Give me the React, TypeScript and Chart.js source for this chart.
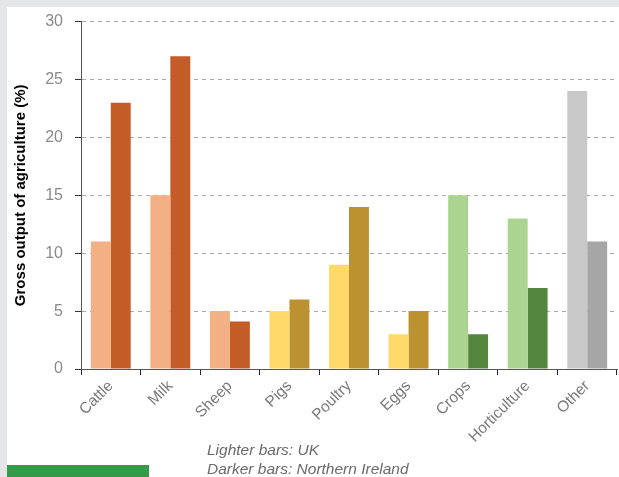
import React, { useEffect, useRef } from "react";
import { Chart, registerables } from "chart.js";

Chart.register(...registerables);

const categories = ["Cattle", "Milk", "Sheep", "Pigs", "Poultry", "Eggs", "Crops", "Horticulture", "Other"];
const ukValues = [11, 15, 5, 5, 9, 3, 15, 13, 24];
const niValues = [23, 27, 4.1, 6, 14, 5, 3, 7, 11];
const lightColors = ["#f3b085", "#f3b085", "#f3b085", "#fdd96a", "#fdd96a", "#fdd96a", "#acd491", "#acd491", "#c8c8c8"];
const darkColors = ["#c45c27", "#c45c27", "#c45c27", "#bc912f", "#bc912f", "#bc912f", "#53853c", "#53853c", "#a6a6a6"];
const yTicks = [0, 5, 10, 15, 20, 25, 30];
const yTitle = "Gross output of agriculture (%)";
const notes = ["Lighter bars: UK", "Darker bars: Northern Ireland"];

export default function App() {
  const ref = useRef<HTMLCanvasElement | null>(null);

  useEffect(() => {
    document.body.style.margin = "0";
    const canvas = ref.current;
    if (!canvas) return;
    const chart = new Chart(canvas, {
      type: "bar",
      data: {
        labels: categories,
        datasets: [
          {
            label: "UK",
            data: ukValues,
            backgroundColor: lightColors,
            borderWidth: 0,
            categoryPercentage: 0.67,
            barPercentage: 1,
          },
          {
            label: "Northern Ireland",
            data: niValues,
            backgroundColor: darkColors,
            borderWidth: 0,
            categoryPercentage: 0.67,
            barPercentage: 1,
          },
        ],
      },
      options: {
        animation: false,
        responsive: false,
        maintainAspectRatio: false,
        layout: { padding: { left: 0, top: 20, right: 2, bottom: 0 } },
        plugins: {
          legend: { display: false },
          tooltip: { enabled: false },
          title: { display: false },
        },
        scales: {
          x: {
            z: 1,
            offset: true,
            grid: {
              display: true,
              drawOnChartArea: false,
              offset: true,
              tickLength: 6,
              tickColor: "#222",
              color: "#222",
            },
            border: { display: true, color: "#555", width: 1 },
            ticks: {
              minRotation: 45,
              maxRotation: 45,
              color: "#7a7a7a",
              padding: 2,
              font: { family: "'Liberation Sans', Arial, sans-serif", size: 15.5 },
            },
            afterFit: (s: any) => {
              s.height = 108;
            },
          },
          y: {
            min: 0,
            max: 30,
            afterBuildTicks: (s: any) => {
              s.ticks = yTicks.map((v) => ({ value: v }));
            },
            grid: {
              color: "#a8a8a8",
              borderDash: [4, 4],
              tickBorderDash: [],
              tickColor: "#333",
              tickLength: 6,
              lineWidth: 1,
            },
            border: { display: true, color: "#555", width: 1, dash: [4, 4] },
            ticks: {
              color: "#8a8a8a",
              padding: 12,
              font: { family: "'Liberation Sans', Arial, sans-serif", size: 16 },
            },
            title: {
              display: true,
              text: yTitle,
              color: "#000",
              padding: { top: 12, bottom: 0 },
              font: { family: "'Liberation Sans', Arial, sans-serif", size: 15, weight: "bold" },
            },
            afterFit: (s: any) => {
              s.width = 81;
            },
          },
        },
      },
    });
    return () => chart.destroy();
  }, []);

  return (
    <div style={{ position: "fixed", left: 0, top: 0, width: 619, height: 477, background: "#e5e6e7", overflow: "hidden" }}>
      <div style={{ position: "absolute", left: 7, top: 7, width: 612, height: 470, background: "#ffffff" }} />
      <canvas ref={ref} width={619} height={477} style={{ position: "absolute", left: 0, top: 0, width: 619, height: 477 }} />
      <div
        style={{
          position: "absolute",
          left: 207,
          top: 440,
          fontFamily: "'Liberation Sans', Arial, sans-serif",
          fontStyle: "italic",
          fontSize: 15.5,
          lineHeight: "19px",
          color: "#6a6a6a",
          whiteSpace: "nowrap",
        }}
      >
        <div>{notes[0]}</div>
        <div>{notes[1]}</div>
      </div>
      <div style={{ position: "absolute", left: 7, top: 465, width: 142, height: 12, background: "#339b48" }} />
    </div>
  );
}
